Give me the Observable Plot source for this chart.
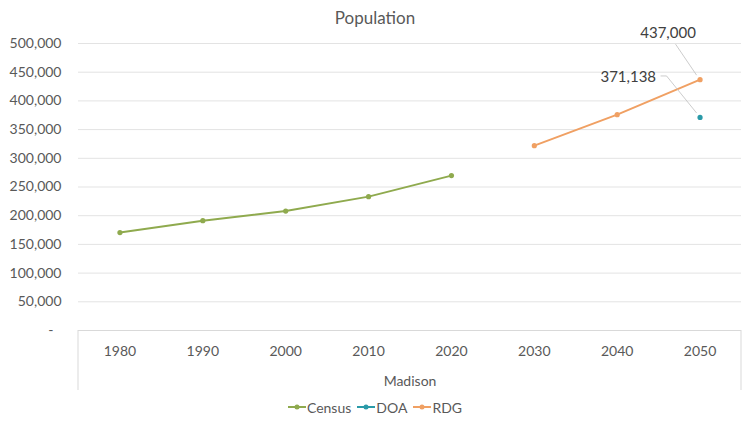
<!DOCTYPE html>
<html><head><meta charset="utf-8">
<script src="https://cdn.jsdelivr.net/npm/d3@7"></script>
<script src="https://cdn.jsdelivr.net/npm/@observablehq/plot@0.6"></script>
<style>
body{margin:0;background:#fff;font-family:Lato,"Open Sans",sans-serif;color:#595959;width:750px;}
#title{height:24px;padding-top:6px;line-height:24px;text-align:center;font-size:17px;}
#chart svg{display:block;overflow:visible;}
#legend{display:flex;justify-content:center;align-items:center;height:24px;font-size:14px;margin-top:0px;}
#legend .item{display:flex;align-items:center;margin:0 3px;}
#legend svg{margin-right:1px;}
</style></head><body>
<div id="title">Population</div>
<div id="chart"></div>
<div id="legend"></div>
<script>
const years = ["1980","1990","2000","2010","2020","2030","2040","2050"];
const censusYears = ["1980","1990","2000","2010","2020"];
const censusValues = [170616, 191262, 208054, 233209, 269840];
const doaYears = ["2050"];
const doaValues = [371138];
const rdgYears = ["2030","2040","2050"];
const rdgValues = [322000, 376000, 437000];
const seriesNames = ["Census","DOA","RDG"];
const seriesColors = ["#8faa4e","#2a9aa8","#f0a063"];
const yTicks = [0,50000,100000,150000,200000,250000,300000,350000,400000,450000,500000];
const xLabel = "Madison";

const toRows = (xs, vs, s) => xs.map((x, i) => ({year: x, value: vs[i], series: s}));
const census = toRows(censusYears, censusValues, "Census");
const doa = toRows(doaYears, doaValues, "DOA");
const rdg = toRows(rdgYears, rdgValues, "RDG");
const colorOf = Object.fromEntries(seriesNames.map((n, i) => [n, seriesColors[i]]));
const fmt = d3.format(",");

// leader lines from data labels to their points
const leaderMark = (index, scales, values, dims) => {
  const g = d3.create("svg:g").attr("fill", "none").attr("stroke", "#bfbfbf").attr("stroke-width", 0.8);
  const r1 = rdg[rdg.length - 1], d1 = doa[0];
  const p1 = [scales.x(r1.year), scales.y(r1.value)];
  const p2 = [scales.x(d1.year), scales.y(d1.value)];
  g.append("path").attr("d", `M${p1[0]-3},${p1[1]-4}L${p1[0]-24},${p1[1]-35}`);
  g.append("path").attr("d", `M${p2[0]-3},${p2[1]-4}L${p2[0]-33},${p2[1]-41}L${p2[0]-39},${p2[1]-41}`);
  return g.node();
};
// box lines around the category axis area
const boxMark = (index, scales, values, dims) => {
  const g = d3.create("svg:g").attr("fill", "none").attr("stroke", "#d9d9d9").attr("stroke-width", 1);
  const x0 = dims.marginLeft, x1 = dims.width - dims.marginRight, yb = dims.height - dims.marginBottom;
  g.append("path").attr("d", `M${x0},${yb}V${dims.height - 5}M${x1},${yb}V${dims.height - 5}`);
  return g.node();
};

const chart = Plot.plot({
  width: 750,
  height: 365,
  marginTop: 13,
  marginLeft: 78,
  marginRight: 9,
  marginBottom: 65,
  style: {fontFamily: "Lato, 'Open Sans', sans-serif", fontSize: "14px", color: "#595959", background: "#fff", overflow: "visible"},
  x: {type: "point", domain: years, padding: 0.5, round: false},
  y: {domain: [0, 500000]},
  marks: [
    Plot.gridY(yTicks.slice(1), {stroke: "#e3e3e3", strokeOpacity: 1}),
    Plot.ruleY([0], {stroke: "#d9d9d9"}),
    boxMark,
    Plot.axisY({ticks: yTicks, tickSize: 0, tickPadding: 17, tickFormat: d => d === 0 ? "-\u2007" : fmt(d), fill: "#595959", fontSize: 14, label: null}),
    Plot.axisX({tickSize: 0, tickPadding: 16, fill: "#595959", fontSize: 14, label: xLabel, labelAnchor: "center", labelArrow: "none", labelOffset: 55}),
    Plot.line(census, {x: "year", y: "value", stroke: colorOf.Census, strokeWidth: 2}),
    Plot.line(rdg, {x: "year", y: "value", stroke: colorOf.RDG, strokeWidth: 2}),
    Plot.dot(census, {x: "year", y: "value", fill: colorOf.Census, r: 2.6}),
    Plot.dot(rdg, {x: "year", y: "value", fill: colorOf.RDG, r: 2.6}),
    Plot.dot(doa, {x: "year", y: "value", fill: colorOf.DOA, r: 2.6}),
    leaderMark,
    Plot.text(rdg.slice(-1), {x: "year", y: "value", text: d => fmt(d.value), dx: -32, dy: -46, fill: "#404040", fontSize: 15, textAnchor: "middle"}),
    Plot.text(doa, {x: "year", y: "value", text: d => fmt(d.value), dx: -44, dy: -40, fill: "#404040", fontSize: 15, textAnchor: "end"})
  ]
});
document.getElementById("chart").appendChild(chart);

const legend = document.getElementById("legend");
seriesNames.forEach((n, i) => {
  const item = document.createElement("div");
  item.className = "item";
  item.innerHTML = `<svg width="18" height="10"><line x1="0" x2="18" y1="5" y2="5" stroke="${seriesColors[i]}" stroke-width="2"/><circle cx="9" cy="5" r="2.5" fill="${seriesColors[i]}"/></svg><span>${n}</span>`;
  legend.appendChild(item);
});
</script>
</body></html>
